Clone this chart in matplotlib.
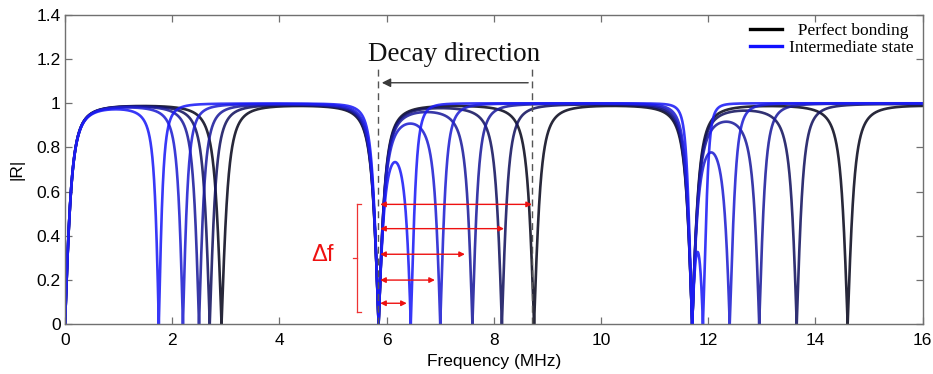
import numpy as np
import matplotlib
matplotlib.use('Agg')
import matplotlib.pyplot as plt
from matplotlib.lines import Line2D

# ---------------- data ----------------
x_ticks = [0, 2, 4, 6, 8, 10, 12, 14, 16]
y_ticks = [0, 0.2, 0.4, 0.6, 0.8, 1.0, 1.2, 1.4]
fixed_dips = [5.85, 11.70]            # |R| minima shared by every bonding state (MHz)
# moving |R| minima (MHz) of each state, from most degraded (blue) to perfect bonding (black)
state_dips = [
    [1.75, 6.45, 11.90],
    [2.20, 7.00, 12.40],
    [2.50, 7.60, 12.95],
    [2.70, 8.15, 13.65],
    [2.92, 8.75, 14.60],
]
state_colors = ['#1c1cf6', '#2020d2', '#1c1c9c', '#141460', '#0a0a1e']
contrast = 160.0                      # impedance-contrast factor (sets dip sharpness)

decay_lines = [5.83, 8.72]            # dashed markers (MHz)
decay_arrow = [8.64, 5.91]            # arrow from -> to (MHz)
df_left = 5.88
df_right = [6.375, 6.90, 7.46, 8.19, 8.71]
df_levels = [0.094, 0.199, 0.316, 0.432, 0.542]
bracket_x = 5.44
bracket_y = [0.056, 0.542]

legend_labels = ['  Perfect bonding', 'Intermediate state']
legend_colors = ['black', '#1010ff']

plt.rcParams['font.family'] = ['Liberation Sans', 'DejaVu Sans']

# ---------------- model of |R| built from the read minima ----------------
half_period = fixed_dips[0]


def reflection(f, dips):
    dips = np.asarray(dips)
    x = np.pi * f / half_period
    xd = np.pi * dips / half_period
    comp = 1.0 / (np.tan(xd) * xd)          # interface compliance at each dip
    c = np.interp(f, dips, comp)
    g = np.sin(x) * (np.cos(x) - x * np.sin(x) * c)
    return np.sqrt(contrast * g ** 2 / (1 + contrast * g ** 2))


fig = plt.figure(figsize=(9.33, 3.74), dpi=100)
ax = fig.add_axes([65 / 933, 1 - 324 / 374, (922.7 - 65) / 933, (324 - 15) / 374])

base = np.linspace(x_ticks[0], x_ticks[-1], 16001)
for dips, col in reversed(list(zip(state_dips, state_colors))):
    f = np.union1d(base, np.array(dips + fixed_dips))
    ax.plot(f, reflection(f, dips), color=col, lw=1.9, alpha=0.88, solid_capstyle='round')

ax.set_xlim(x_ticks[0], x_ticks[-1])
ax.set_ylim(y_ticks[0], y_ticks[-1])
ax.set_xticks(x_ticks)
ax.set_yticks(y_ticks)
ax.set_xticklabels([f'{v:g}' for v in x_ticks])
ax.set_yticklabels([f'{v:g}' for v in y_ticks])
ax.tick_params(direction='in', length=5, width=0.9, color='#707070', labelsize=12.5,
               top=True, right=True)
ax.tick_params(axis='x', pad=6.5)
ax.tick_params(axis='y', pad=3)
for s in ax.spines.values():
    s.set_color('#707070')
    s.set_linewidth(1.0)
ax.set_xlabel('Frequency (MHz)', fontsize=12.5, labelpad=4)
ax.set_ylabel('|R|', fontsize=12.5, labelpad=9)

# ---------------- annotations ----------------
for xv in decay_lines:
    ax.plot([xv, xv], [0, 1.158], color='#555555', lw=1.0, ls=(0, (5, 3.5)))
ax.annotate('', xy=(decay_arrow[1], 1.093), xytext=(decay_arrow[0], 1.093),
            arrowprops=dict(arrowstyle='-|>', color='#3a3a3a', lw=1.0,
                            mutation_scale=13, shrinkA=0, shrinkB=0))
ax.text(7.26, 1.193, 'Decay direction', family='Liberation Serif', fontsize=19.5,
        ha='center', va='baseline', color='#111111')

for xr, yl in zip(df_right, df_levels):
    ax.annotate('', xy=(xr, yl), xytext=(df_left, yl),
                arrowprops=dict(arrowstyle='<|-|>', color='#ee1111', lw=1.0,
                                mutation_scale=8, shrinkA=0, shrinkB=0))

ax.plot([bracket_x, bracket_x], bracket_y, color='#ee3333', lw=0.9)
ax.plot([bracket_x, bracket_x + 0.075], [bracket_y[0]] * 2, color='#ee3333', lw=0.9)
ax.plot([bracket_x, bracket_x + 0.075], [bracket_y[1]] * 2, color='#ee3333', lw=0.9)
mid = 0.5 * (bracket_y[0] + bracket_y[1])
ax.plot([bracket_x - 0.06, bracket_x], [mid, mid], color='#ee3333', lw=0.9)
ax.text(4.80, 0.314, 'Δf', color='#ee1111', fontsize=17, ha='center', va='center')

handles = [Line2D([0], [0], color=c, lw=2.4) for c in legend_colors]
ax.legend(handles, legend_labels, prop={'family': 'Liberation Serif', 'size': 12.5},
          frameon=False, loc='upper left', bbox_to_anchor=(750 / 933, 1 - 23 / 374),
          bbox_transform=fig.transFigure, borderpad=0, borderaxespad=0,
          handlelength=1.83, handletextpad=0.42, labelspacing=0.05)

fig.savefig('out.png', dpi=100)
